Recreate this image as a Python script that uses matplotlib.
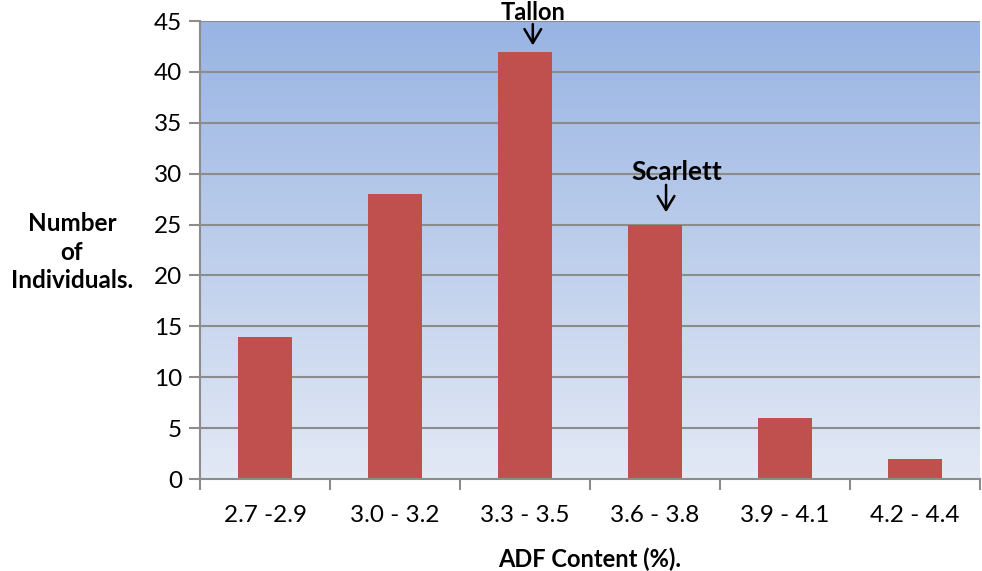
import matplotlib
matplotlib.use("Agg")
import matplotlib.pyplot as plt
import numpy as np
from matplotlib.colors import LinearSegmentedColormap

categories = ["2.7 -2.9", "3.0 - 3.2", "3.3 - 3.5", "3.6 - 3.8", "3.9 - 4.1", "4.2 - 4.4"]
counts = [14, 28, 42, 25, 6, 2]
yticks = [0, 5, 10, 15, 20, 25, 30, 35, 40, 45]

plt.rcParams['font.family'] = ['Lato', 'DejaVu Sans']

fig = plt.figure(figsize=(9.82, 5.71), dpi=100)
ax = fig.add_axes([200/982, (571-479)/571, 780/982, (479-21)/571])

x = np.arange(len(categories))
ax.set_xlim(-0.5, len(categories)-0.5)
ax.set_ylim(0, 45)

# gradient background
cmap = LinearSegmentedColormap.from_list("bg", ["#E3E9F5", "#98B4E3"])
grad = np.linspace(0, 1, 256).reshape(-1, 1)
ax.imshow(grad, extent=[-0.5, len(categories)-0.5, 0, 45], origin='lower',
          aspect='auto', cmap=cmap, zorder=0)

for yv in yticks[1:]:
    ax.axhline(yv, color="#8C8C8C", lw=1.5, zorder=1)

ax.bar(x, counts, width=0.41, color="#C0504D", zorder=2)

ax.set_yticks(yticks)
ax.set_yticklabels([str(v) for v in yticks], fontsize=17.5)
ax.set_xticks(x)
ax.set_xticklabels(categories, fontsize=17.5)
ax.tick_params(axis='x', length=0, pad=19)
ax.tick_params(axis='y', length=8, width=1.5, color="#8C8C8C", pad=5)
# category boundary ticks
ax.set_xticks(np.arange(-0.5, len(categories)+0.5, 1), minor=True)
ax.tick_params(axis='x', which='minor', length=8, width=1.5, color="#8C8C8C")

for s in ['top', 'right']:
    ax.spines[s].set_visible(False)
for s in ['left', 'bottom']:
    ax.spines[s].set_color("#8C8C8C")
    ax.spines[s].set_linewidth(1.5)

ax.set_xlabel("ADF Content (%).", fontsize=17, fontweight='bold', labelpad=15)
fig.text(72/982, 1-252/571, "Number\nof\nIndividuals.", ha='center', va='center',
         fontsize=17.5, fontweight='bold', linespacing=1.3)

arrow_kw = dict(arrowstyle='->,head_length=0.5,head_width=0.3', color='black', lw=1.8,
                mutation_scale=20, shrinkA=0, shrinkB=0)

ax.text(2.065, 45.8, "Tallon", ha='center', va='center', fontsize=17,
        fontweight='bold', zorder=0, clip_on=False)
ax.annotate("", xy=(2.06, 42.6), xytext=(2.06, 44.7), annotation_clip=False,
            arrowprops=arrow_kw)

ax.text(3.17, 30.16, "Scarlett", ha='center', va='center', fontsize=19,
        fontweight='bold', zorder=3)
ax.annotate("", xy=(3.085, 26.2), xytext=(3.085, 28.9), arrowprops=arrow_kw)

fig.savefig("out.png", dpi=100)
